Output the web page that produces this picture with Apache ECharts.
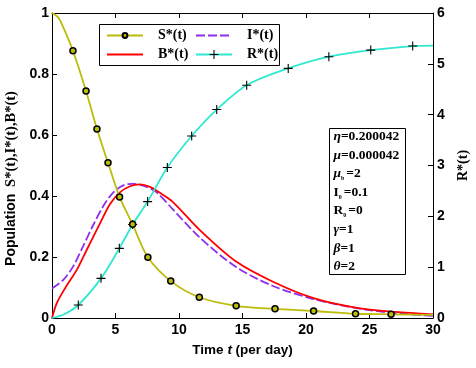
<!DOCTYPE html>
<html>
<head>
<meta charset="utf-8">
<script src="https://cdn.jsdelivr.net/npm/echarts@6/dist/echarts.min.js"></script>
<style>
  html, body { margin: 0; padding: 0; background: #fff; }
  #chart { width: 476px; height: 368px; }
</style>
</head>
<body>
<div id="chart"></div>
<script>
// S*(t), I*(t), B*(t) on left axis; R*(t) on right axis
const sT = [0, 0.5, 0.9, 1.65, 2.68, 3.54, 4.41, 5.32, 6.35, 7.55, 9.35, 11.6, 14.5, 17.56, 20.6, 23.9, 26.7, 30];
const sV = [1, 0.985, 0.952, 0.876, 0.744, 0.62, 0.509, 0.397, 0.307, 0.199, 0.121, 0.068, 0.040, 0.030, 0.023, 0.014, 0.012, 0.010];
const sMarkT = [1.65, 2.68, 3.54, 4.41, 5.32, 6.35, 7.55, 9.35, 11.6, 14.5, 17.56, 20.6, 23.9, 26.7];

const iT = [0, 0.89, 1.68, 2.47, 3.25, 4.04, 4.83, 5.61, 6.4, 7.46, 8.24, 9.5, 11.6, 14.5, 17.4, 20.6, 23.9, 27, 30];
const iV = [0.097, 0.125, 0.17, 0.237, 0.305, 0.367, 0.412, 0.435, 0.44, 0.43, 0.412, 0.357, 0.265, 0.167, 0.105, 0.062, 0.033, 0.016, 0.007];

const bT = [0, 0.37, 1.02, 1.94, 2.73, 3.78, 4.57, 5.35, 6.14, 6.93, 7.72, 8.37, 9.5, 11.6, 14.5, 17.4, 20.6, 23.9, 27, 30];
const bV = [0, 0.048, 0.097, 0.157, 0.223, 0.31, 0.374, 0.412, 0.432, 0.438, 0.43, 0.414, 0.381, 0.29, 0.185, 0.119, 0.065, 0.034, 0.02, 0.012];

const rT = [0, 1, 2.07, 3.86, 5.3, 6.35, 7.53, 9.08, 11.0, 12.97, 15.33, 18.6, 21.8, 25.1, 28.4, 30];
const rV = [0, 0.08, 0.256, 0.78, 1.37, 1.84, 2.29, 2.96, 3.58, 4.1, 4.58, 4.91, 5.14, 5.27, 5.35, 5.36];
const rMarkT = [2.07, 3.86, 5.3, 6.35, 7.53, 9.08, 11.0, 12.97, 15.33, 18.6, 21.8, 25.1, 28.4];

const params = [
  ['η', '', '=0.200042'],
  ['μ', '', '=0.000042'],
  ['μ', 'b', '=2'],
  ['I', '0', '=0.1'],
  ['R', '0', '=0'],
  ['γ', '', '=1'],
  ['β', '', '=1'],
  ['θ', '', '=2']
];

const plusPath = 'path://M-0.6,-5H0.6V-0.6H5V0.6H0.6V5H-0.6V0.6H-5V-0.6H-0.6Z';

const pts = (ts, vs, marks) => ts.map((t, k) => ({
  value: [t, vs[k]],
  symbol: marks && marks.includes(t) ? undefined : 'none'
}));

const chart = echarts.init(document.getElementById('chart'));

const axisLine = { show: true, onZero: false, lineStyle: { color: '#000', width: 1 } };
const tickFont = { color: '#000', fontFamily: 'Liberation Sans', fontWeight: 'bold', fontSize: 14 };
const legendText = { fontFamily: 'Liberation Serif', fontWeight: 'bold', fontSize: 14, color: '#000', padding: [0, 0, 0, 10], lineHeight: 19 };
const noMark = { opacity: 0 };

const option = {
  animation: false,
  backgroundColor: '#fff',
  grid: { left: 52, right: 43, top: 13, bottom: 50, outerBoundsMode: 'none', containLabel: false },
  xAxis: [
    {
      type: 'value', min: 0, max: 30, interval: 5, position: 'bottom',
      axisLine: axisLine,
      axisTick: { inside: true, length: 5, lineStyle: { color: '#000' } },
      axisLabel: Object.assign({ margin: 5 }, tickFont),
      splitLine: { show: false },
      name: '{a|Time }{i|t}{a| (per day)}',
      nameLocation: 'middle',
      nameGap: 25,
      nameTextStyle: {
        rich: {
          a: { fontFamily: 'Liberation Sans', fontWeight: 'bold', fontSize: 13.5, color: '#000' },
          i: { fontFamily: 'Liberation Sans', fontWeight: 'bold', fontStyle: 'italic', fontSize: 13.5, color: '#000' }
        }
      }
    },
    {
      type: 'value', min: 0, max: 30, interval: 5, position: 'top',
      axisLine: axisLine,
      axisTick: { inside: true, length: 5, lineStyle: { color: '#000' } },
      axisLabel: { show: false },
      splitLine: { show: false }
    }
  ],
  yAxis: [
    {
      type: 'value', min: 0, max: 1, interval: 0.2, position: 'left',
      axisLine: axisLine,
      axisTick: { inside: true, length: 5, lineStyle: { color: '#000' } },
      axisLabel: Object.assign({ margin: 3 }, tickFont),
      splitLine: { show: false },
      name: '{a|Population}  {b|S*(t),I*(t),B*(t)}',
      nameLocation: 'middle',
      nameGap: 32,
      nameTextStyle: {
        padding: [0, 26, 0, 0],
        rich: {
          a: { fontFamily: 'Liberation Sans', fontWeight: 'bold', fontSize: 14, color: '#000' },
          b: { fontFamily: 'Liberation Serif', fontWeight: 'bold', fontSize: 14.5, color: '#000' }
        }
      }
    },
    {
      type: 'value', min: 0, max: 6, interval: 1, position: 'right',
      axisLine: axisLine,
      axisTick: { inside: true, length: 5, lineStyle: { color: '#000' } },
      axisLabel: Object.assign({ margin: 4 }, tickFont),
      splitLine: { show: false },
      name: 'R*(t)',
      nameLocation: 'middle',
      nameGap: 23,
      nameRotate: 90,
      nameTextStyle: { fontFamily: 'Liberation Serif', fontWeight: 'bold', fontSize: 14, color: '#000' }
    }
  ],
  legend: [
    {
      data: ['S*(t)', { name: 'B*(t)', itemStyle: noMark }],
      orient: 'vertical', left: 106, top: 26, padding: 0,
      itemWidth: 36, itemHeight: 6, itemGap: 0,
      textStyle: legendText
    },
    {
      data: [{ name: 'I*(t)', itemStyle: noMark }, 'R*(t)'],
      orient: 'vertical', left: 195, top: 26, padding: 0,
      itemWidth: 36, itemHeight: 11, itemGap: 0,
      textStyle: legendText
    }
  ],
  graphic: [
    {
      type: 'rect', left: 99, top: 24, z: 0,
      shape: { width: 180, height: 41 },
      style: { fill: '#fff', stroke: '#000', lineWidth: 1 }
    },
    {
      type: 'group', left: 329, top: 128,
      children: [
        {
          type: 'rect',
          shape: { x: 0, y: 0, width: 76, height: 146 },
          style: { fill: '#fff', stroke: '#000', lineWidth: 1 }
        }
      ].concat(params.map((p, k) => ({
        type: 'text',
        x: 4, y: 8 + k * 18.6,
        style: {
          text: '{g|' + p[0] + '}' + (p[1] ? '{s|' + p[1] + '}' : '') + '{n|' + p[2] + '}',
          verticalAlign: 'middle',
          rich: {
            g: { fontFamily: 'Liberation Serif', fontWeight: 'bold', fontStyle: /[a-zA-Z]/.test(p[0]) ? 'normal' : 'italic', fontSize: 13.5, fill: '#000', lineHeight: 16 },
            s: { fontFamily: 'Liberation Serif', fontWeight: 'bold', fontSize: 6, fill: '#000', lineHeight: 16, verticalAlign: 'bottom', padding: [0, 2, 0, 0] },
            n: { fontFamily: 'Liberation Serif', fontWeight: 'bold', fontSize: 13.5, fill: '#000', lineHeight: 16 }
          }
        }
      })))
    }
  ],
  series: [
    {
      name: 'S*(t)', type: 'line', smooth: 0.3,
      data: pts(sT, sV, sMarkT),
      symbol: 'circle', symbolSize: 6, showSymbol: true,
      lineStyle: { color: '#bcbc0a', width: 1.8 },
      itemStyle: { color: '#bcbc0a', borderColor: '#000', borderWidth: 1.5 },
      z: 3
    },
    {
      name: 'I*(t)', type: 'line', smooth: 0.3,
      data: pts(iT, iV),
      symbol: 'none',
      lineStyle: { color: '#8e2ff0', width: 1.8, type: [9, 3] },
      itemStyle: { color: '#8e2ff0' },
      z: 2
    },
    {
      name: 'B*(t)', type: 'line', smooth: 0.3,
      data: pts(bT, bV),
      symbol: 'none',
      lineStyle: { color: '#ff0000', width: 1.8 },
      itemStyle: { color: '#ff0000' },
      z: 2
    },
    {
      name: 'R*(t)', type: 'line', smooth: 0.3, yAxisIndex: 1,
      data: pts(rT, rV, rMarkT),
      symbol: plusPath, symbolSize: 9, showSymbol: true,
      lineStyle: { color: '#30e8d0', width: 1.8 },
      itemStyle: { color: '#000' },
      z: 2
    }
  ]
};

chart.setOption(option);
</script>
</body>
</html>
